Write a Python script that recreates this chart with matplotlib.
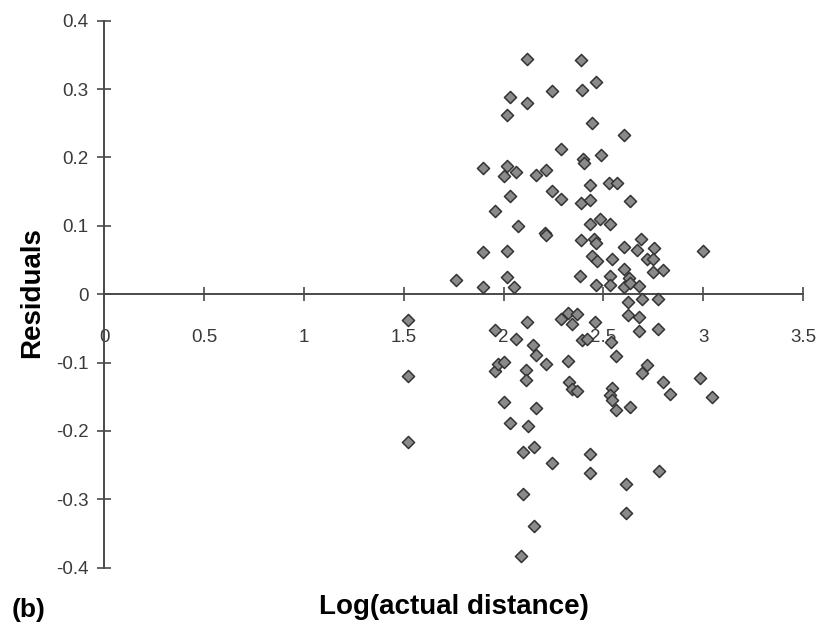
import matplotlib
matplotlib.use("Agg")
import matplotlib.pyplot as plt

plt.rcParams['font.family'] = ['Liberation Sans', 'DejaVu Sans']

# log(actual distance) vs residuals
log_dist = [
    2.118, 2.387, 2.461, 2.244, 2.392, 2.033, 2.117, 2.015, 2.442, 2.604,
    2.289, 2.487, 2.397, 2.402, 1.895, 2.015, 2.000, 2.062, 2.160, 2.210,
    2.434, 2.526, 2.566, 2.033, 2.244, 2.289, 2.387, 2.434, 2.633, 1.956,
    2.073, 2.208, 2.212, 2.434, 2.482, 2.534, 2.387, 2.454, 2.461, 2.688,
    2.604, 2.666, 2.751, 1.895, 2.015, 2.444, 2.466, 2.543, 2.716, 2.749,
    3.000, 2.604, 2.749, 2.800, 1.761, 1.895, 2.015, 2.053, 2.382, 2.461,
    2.534, 2.534, 2.630, 2.604, 2.633, 2.676,
    2.621, 2.693, 2.773, 2.621, 2.680, 2.676, 2.773, 2.538, 2.563, 2.391,
    2.416, 2.716, 2.691, 2.800, 2.833, 2.983, 3.042, 2.541, 2.533, 2.543,
    2.563, 2.633, 1.522, 1.522, 1.522, 1.956, 2.115, 2.062, 2.148, 2.162,
    2.210, 1.956, 1.973, 2.000, 2.110, 2.110, 2.000, 2.162, 2.033, 2.120,
    2.098, 2.152, 2.244, 2.434, 2.434, 2.098, 2.152, 2.085, 2.289, 2.324,
    2.366, 2.341, 2.324, 2.327, 2.341, 2.366, 2.458, 2.611, 2.611, 2.780,
]
residuals = [
    0.344, 0.342, 0.310, 0.297, 0.298, 0.289, 0.279, 0.262, 0.250, 0.233,
    0.213, 0.203, 0.197, 0.192, 0.185, 0.188, 0.173, 0.178, 0.175, 0.182,
    0.160, 0.162, 0.163, 0.144, 0.151, 0.139, 0.133, 0.138, 0.137, 0.122,
    0.100, 0.089, 0.086, 0.102, 0.110, 0.102, 0.079, 0.080, 0.075, 0.081,
    0.069, 0.065, 0.067, 0.061, 0.063, 0.056, 0.049, 0.051, 0.051, 0.051,
    0.063, 0.037, 0.032, 0.035, 0.021, 0.010, 0.025, 0.010, 0.026, 0.013,
    0.027, 0.013, 0.023, 0.011, 0.016, 0.012,
    -0.011, -0.007, -0.007, -0.031, -0.033, -0.054, -0.051, -0.070, -0.091, -0.067,
    -0.065, -0.103, -0.115, -0.129, -0.146, -0.123, -0.151, -0.137, -0.147, -0.155,
    -0.169, -0.165, -0.038, -0.119, -0.216, -0.053, -0.040, -0.066, -0.074, -0.089,
    -0.102, -0.112, -0.102, -0.099, -0.111, -0.125, -0.158, -0.167, -0.188, -0.193,
    -0.231, -0.223, -0.247, -0.234, -0.262, -0.292, -0.339, -0.383, -0.037, -0.027,
    -0.029, -0.044, -0.097, -0.129, -0.139, -0.142, -0.040, -0.277, -0.320, -0.259,
]

x_ticks = [0, 0.5, 1, 1.5, 2, 2.5, 3, 3.5]
x_tick_labels = ['0', '0.5', '1', '1.5', '2', '2.5', '3', '3.5']
y_ticks = [-0.4, -0.3, -0.2, -0.1, 0, 0.1, 0.2, 0.3, 0.4]
y_tick_labels = ['-0.4', '-0.3', '-0.2', '-0.1', '0', '0.1', '0.2', '0.3', '0.4']

fig = plt.figure(figsize=(8.2, 6.29), dpi=100)
ax = fig.add_axes([0.1274, 0.0975, 0.852, 0.8696])

ax.scatter(log_dist, residuals, marker='D', s=38, facecolor='#8a8a8a',
           edgecolor='#333333', linewidth=1.1, zorder=3, clip_on=False)

ax.set_xlim(0, 3.5)
ax.set_ylim(-0.4, 0.4)

axis_col = '#4a4a4a'
for side in ['top', 'right']:
    ax.spines[side].set_visible(False)
ax.spines['bottom'].set_position(('data', 0))
ax.spines['left'].set_color(axis_col)
ax.spines['bottom'].set_color(axis_col)
ax.spines['left'].set_linewidth(1.4)
ax.spines['bottom'].set_linewidth(1.4)

ax.set_xticks(x_ticks)
ax.set_xticklabels(x_tick_labels)
ax.set_yticks(y_ticks)
ax.set_yticklabels(y_tick_labels)
ax.tick_params(axis='both', direction='inout', length=10, width=1.2,
               color=axis_col, labelsize=13.5, labelcolor='#3a3a3a')
ax.tick_params(axis='x', pad=20)
ax.tick_params(axis='y', pad=6.5)

fig.text(0.553, 0.035, 'Log(actual distance)', fontsize=20, fontweight='bold',
         ha='center', va='center')
fig.text(0.039, 0.535, 'Residuals', fontsize=20, fontweight='bold',
         ha='center', va='center', rotation=90)
fig.text(0.014, 0.030, '(b)', fontsize=19, fontweight='bold',
         ha='left', va='center')

fig.savefig('out.png', dpi=100)
